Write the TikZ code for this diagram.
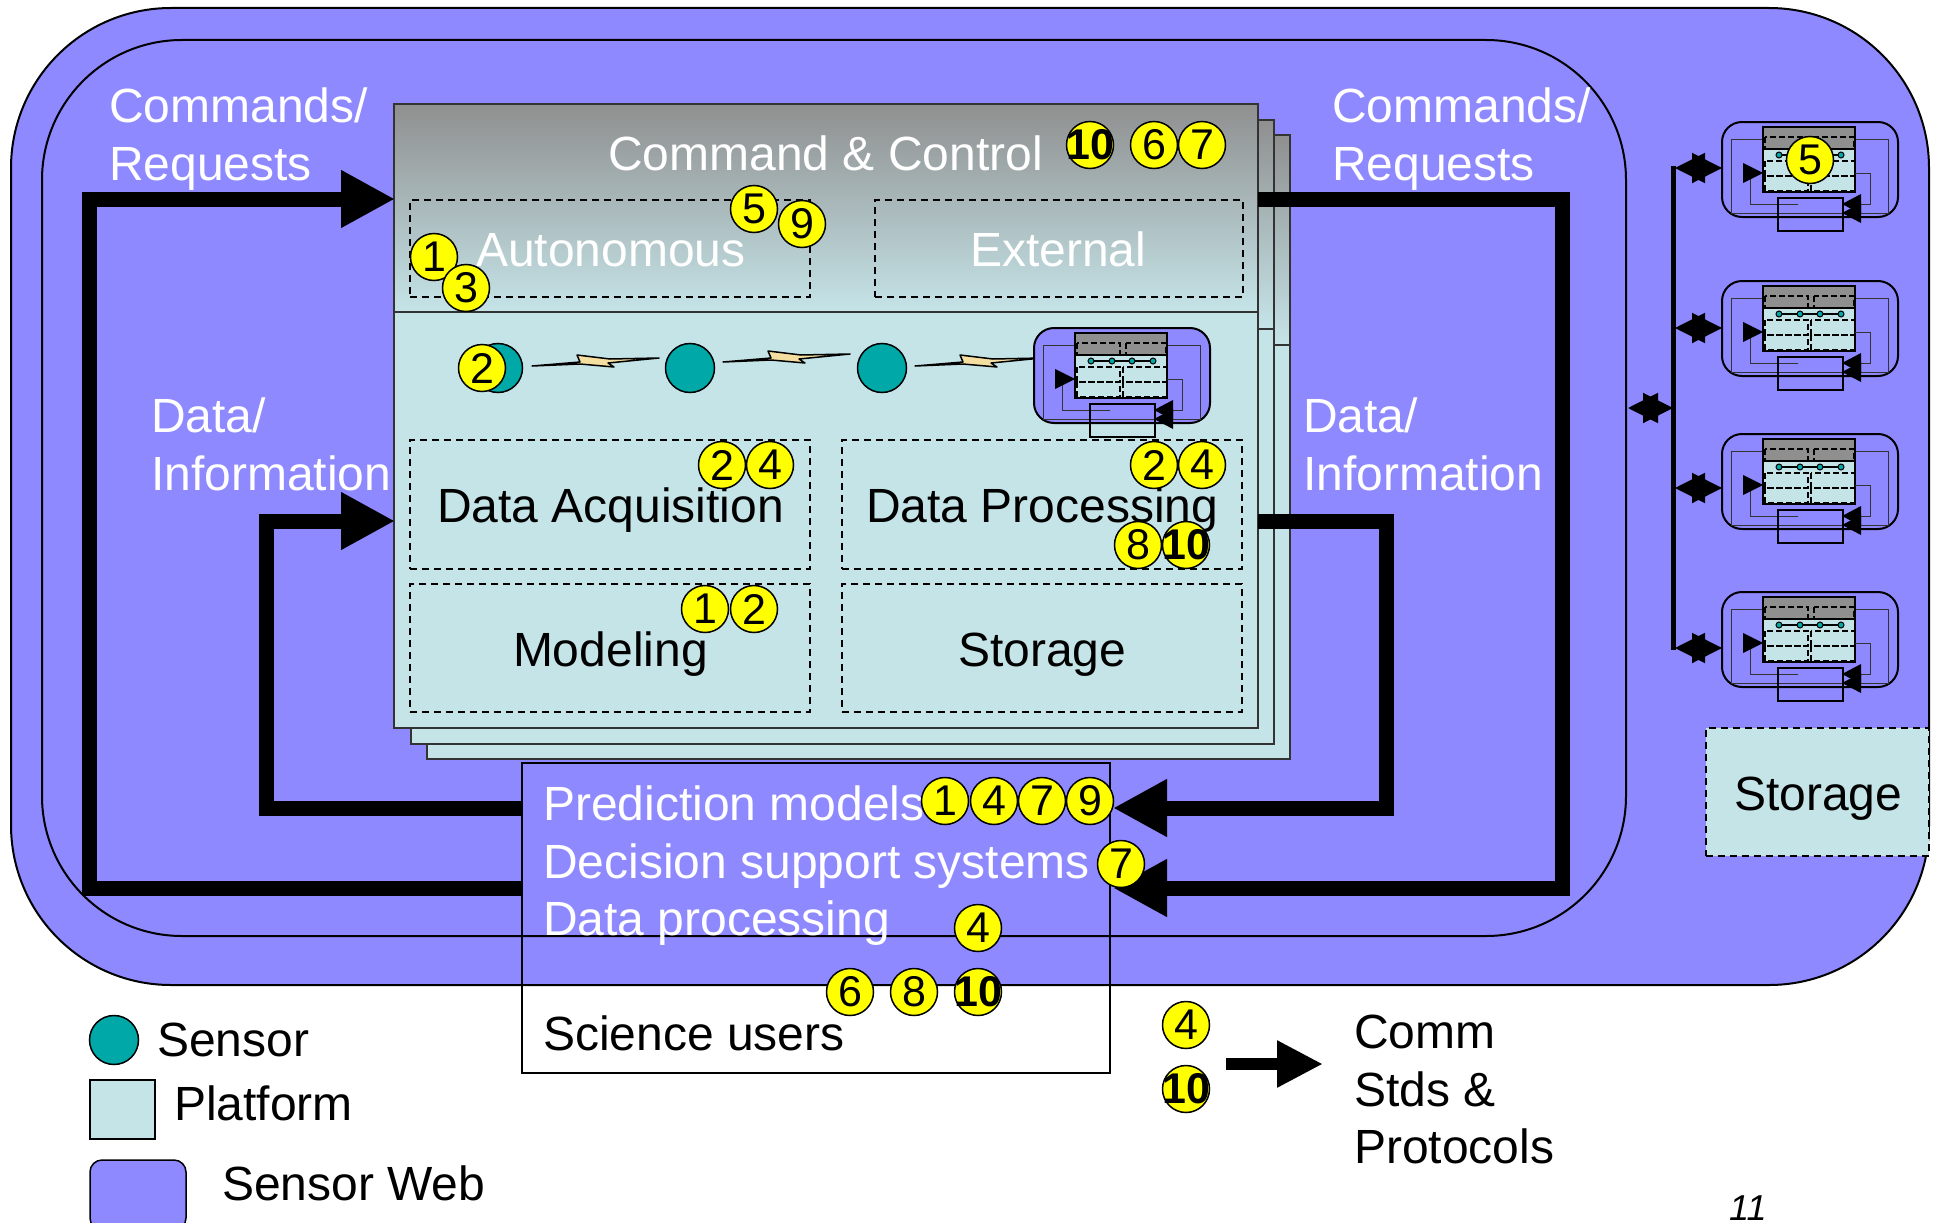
\documentclass[tikz,border=0pt]{standalone}
\usepackage{fontspec}
\setmainfont{Liberation Sans}
\usetikzlibrary{arrows.meta}

\definecolor{webpurple}{HTML}{8F89FF}
\definecolor{platblue}{HTML}{C5E4E8}
\definecolor{cmdgray}{HTML}{8F8F8F}
\definecolor{sensorteal}{HTML}{00A8A8}
\definecolor{boltcream}{HTML}{F5DFA0}
\definecolor{numyellow}{HTML}{FFFF00}

\tikzset{
  label48/.style={inner sep=0, outer sep=0, anchor=base west, font=\fontsize{48}{58}\selectfont},
  whitetxt/.style={label48, text=white},
  blacktxt/.style={label48, text=black},
  numbadge/.style={circle, draw=black, line width=1.5pt, fill=numyellow, minimum size=47pt, inner sep=0, font=\fontsize{43}{43}\selectfont},
  numbadgeb/.style={numbadge, inner sep=-7pt, font=\fontsize{43}{43}\selectfont\bfseries},
  sensor/.style={circle, draw=black, line width=1.5pt, fill=sensorteal, minimum size=49pt, inner sep=0},
  dashbox/.style={draw=black, line width=1.8pt, dash pattern=on 7pt off 5pt, inner sep=0, outer sep=0, anchor=north west},
  cardtop/.style={draw=black!80, line width=1.8pt, top color=cmdgray, middle color=platblue!72!cmdgray, bottom color=platblue, inner sep=0, outer sep=0, anchor=north west},
  cardlow/.style={draw=black!80, line width=1.8pt, fill=platblue, inner sep=0, outer sep=0, anchor=north west},
  bigflow/.style={line width=15pt, -{Triangle[length=54pt, width=54pt]}},
  busflow/.style={line width=2pt, {Triangle[length=30pt, width=30pt]}-{Triangle[length=30pt, width=30pt]}},
  boltmark/.pic={
    \draw[fill=boltcream, line width=1.5pt, line join=round] (0,0) -- (48,-4) -- (45,-11) -- (78,-7) -- (127,-8) -- (76,-3) -- (82,1) -- (48,-2) -- cycle;
  },
  minisys/.pic={
    \draw[fill=webpurple, line width=2pt, rounded corners=20pt] (0,0) rectangle (176,95);
    \draw[line width=1pt, black!80] (41,17) -- (9,17) -- (9,91) -- (166,91) -- (166,17) -- (133,17);
    \draw[line width=1pt, black!80] (76,82) -- (28,82) -- (28,52);
    \fill[platblue] (41,27) rectangle (133,70);
    \fill[cmdgray] (41,5) rectangle (133,27);
    \draw[line width=2pt] (41,5) rectangle (133,70) (41,27) -- (133,27);
    \draw[line width=2pt, dash pattern=on 6pt off 3pt] (43,15) rectangle (86,27) (92,15) rectangle (132,27);
    \draw[line width=2pt, dash pattern=on 6pt off 3pt] (43,39) rectangle (86,54) (43,54) rectangle (86,69) (89,39) rectangle (133,54) (89,54) rectangle (133,69);
    \draw[line width=1.5pt] (57,33) -- (78,33) -- (98,33) -- (119,33);
    \foreach \sx in {57,78,98,119} \draw[fill=sensorteal, line width=1pt] (\sx,33) circle (3pt);
    \draw[line width=1pt, black!80] (133,51) -- (148,51) -- (148,82) -- (130,82);
    \draw[line width=1.6pt] (56,76) rectangle (121,109);
    \fill (41,51) -- (21,41) -- (21,61) -- cycle;
    \fill (120,82) -- (139,72) -- (139,92) -- cycle;
    \fill (120,91) -- (139,81) -- (139,101) -- cycle;
  },
}

\begin{document}
\begin{tikzpicture}[x=1pt, y=-1pt]
  \useasboundingbox (0,0) rectangle (1939,1223);
  \clip (0,0) rectangle (1939,1223);

  % sensor web and inner web
  \draw[fill=webpurple, line width=2pt, rounded corners=160pt] (11,8) rectangle (1929,985);
  \draw[line width=2pt, rounded corners=140pt] (42,40) rectangle (1626,936);

  % stacked platforms, back to front
  \node[cardtop, minimum width=863pt, minimum height=210pt] (backTop) at (427,135) {};
  \node[cardlow, minimum width=863pt, minimum height=414pt] (backLow) at (427,345) {};
  \node[cardtop, minimum width=863pt, minimum height=209pt] (midTop) at (411,120) {};
  \node[cardlow, minimum width=863pt, minimum height=415pt] (midLow) at (411,329) {};
  \node[cardtop, minimum width=864pt, minimum height=208pt] (frontTop) at (394,104) {};
  \node[cardlow, minimum width=864pt, minimum height=416pt] (frontLow) at (394,312) {};

  \node[dashbox, minimum width=400pt, minimum height=97pt] (autoBox) at (410,200) {};
  \node[dashbox, minimum width=368pt, minimum height=97pt] (extBox) at (875,200) {};
  \node[dashbox, minimum width=400pt, minimum height=129pt] (acqBox) at (410,440) {};
  \node[dashbox, minimum width=400pt, minimum height=129pt] (procBox) at (842,440) {};
  \node[dashbox, minimum width=400pt, minimum height=128pt] (modelBox) at (410,584) {};
  \node[dashbox, minimum width=400pt, minimum height=128pt] (storeBox) at (842,584) {};

  % sensor chain
  \node[sensor] (sensorA) at (498,368) {};
  \node[sensor] (sensorB) at (690,368) {};
  \node[sensor] (sensorC) at (882,368) {};
  \pic at (532,366) {boltmark};
  \pic at (723,362) {boltmark};
  \pic at (915,366) {boltmark};
  \pic (iconMain) at (1034,328) {minisys};

  % main flows
  \coordinate (usrLow) at (522,888);
  \coordinate (usrHigh) at (522,808);
  \coordinate (cmdLeft) at (89,199);
  \coordinate (dataLeft) at (266,521);
  \coordinate (cmdIn) at (395,199);
  \coordinate (dataIn) at (395,521);
  \coordinate (cmdOut) at (1258,199);
  \coordinate (dataOut) at (1258,521);
  \coordinate (cmdRight) at (1562,888);
  \coordinate (dataRight) at (1386,808);
  \coordinate (usrLowR) at (1113,888);
  \coordinate (usrHighR) at (1113,808);
  \draw[bigflow] (usrLow) -| (cmdLeft) -- (cmdIn);
  \draw[bigflow] (usrHigh) -| (dataLeft) -- (dataIn);
  \draw[bigflow] (cmdOut) -| (cmdRight) -- (usrLowR);
  \draw[bigflow] (dataOut) -| (dataRight) -- (usrHighR);

  \node[draw=black, line width=1.8pt, inner sep=0, outer sep=0, anchor=north west, minimum width=588pt, minimum height=310pt] (users) at (522,763) {};

  % remote platforms on the bus
  \pic (iconA) at (1722,122) {minisys};
  \pic (iconB) at (1722,281) {minisys};
  \pic (iconC) at (1722,434) {minisys};
  \pic (iconD) at (1722,592) {minisys};
  \coordinate (busA) at (1675,168);
  \coordinate (busB) at (1675,328);
  \coordinate (busC) at (1675,488);
  \coordinate (busD) at (1675,648);
  \coordinate (tapA) at (1722,168);
  \coordinate (tapB) at (1722,328);
  \coordinate (tapC) at (1722,488);
  \coordinate (tapD) at (1722,648);
  \coordinate (busMid) at (1673,408);
  \coordinate (webTap) at (1628,408);
  \draw[line width=5pt] (1673,166) -- (1673,650);
  \draw[busflow] (busA) -- (tapA);
  \draw[busflow] (busB) -- (tapB);
  \draw[busflow] (busC) -- (tapC);
  \draw[busflow] (busD) -- (tapD);
  \draw[busflow] (webTap) -- (busMid);

  \node[draw=black, fill=platblue, line width=1.8pt, dash pattern=on 7pt off 5pt, inner sep=0, outer sep=0, anchor=north west, minimum width=223pt, minimum height=128pt] (archive) at (1706,728) {};

  % labels
  \node[whitetxt] (cmdA) at (109,122) {Commands/};
  \node[whitetxt] (reqA) at (109,180) {Requests};
  \node[whitetxt] (cmdB) at (1332,122) {Commands/};
  \node[whitetxt] (reqB) at (1332,180) {Requests};
  \node[whitetxt] (dataA) at (151,432) {Data/};
  \node[whitetxt] (infoA) at (151,490) {Information};
  \node[whitetxt] (dataB) at (1303,432) {Data/};
  \node[whitetxt] (infoB) at (1303,490) {Information};
  \node[whitetxt] (cmdCtl) at (608,170) {Command \& Control};
  \node[whitetxt] (autoTxt) at (476,266) {Autonomous};
  \node[whitetxt] (extTxt) at (970,266) {External};
  \node[blacktxt] (acqTxt) at (437,522) {Data Acquisition};
  \node[blacktxt] (procTxt) at (866,522) {Data Processing};
  \node[blacktxt] (modelTxt) at (513,666) {Modeling};
  \node[blacktxt] (storeTxt) at (958,666) {Storage};
  \node[blacktxt] (archiveTxt) at (1734,810) {Storage};
  \node[whitetxt] (predTxt) at (543,820) {Prediction models};
  \node[whitetxt] (dssTxt) at (543,878) {Decision support systems};
  \node[whitetxt] (dpTxt) at (543,935) {Data processing};
  \node[blacktxt] (sciTxt) at (543,1050) {Science users};

  % capability numbers
  \node[numbadgeb] (numA) at (1090,145) {10};
  \node[numbadge] (numB) at (1154,145) {6};
  \node[numbadge] (numC) at (1202,145) {7};
  \node[numbadge] (numD) at (754,209) {5};
  \node[numbadge] (numE) at (802,224) {9};
  \node[numbadge] (numF) at (434,257) {1};
  \node[numbadge] (numG) at (466,288) {3};
  \node[numbadge] (numH) at (482,368) {2};
  \node[numbadge] (numI) at (722,465) {2};
  \node[numbadge] (numJ) at (770,465) {4};
  \node[numbadge] (numK) at (1154,465) {2};
  \node[numbadge] (numL) at (1202,465) {4};
  \node[numbadge] (numM) at (1138,545) {8};
  \node[numbadgeb] (numN) at (1186,545) {10};
  \node[numbadge] (numO) at (705,609) {1};
  \node[numbadge] (numP) at (754,609) {2};
  \node[numbadge] (numQ) at (945,801) {1};
  \node[numbadge] (numR) at (994,801) {4};
  \node[numbadge] (numS) at (1042,801) {7};
  \node[numbadge] (numT) at (1090,801) {9};
  \node[numbadge] (numU) at (1121,864) {7};
  \node[numbadge] (numV) at (978,928) {4};
  \node[numbadge] (numW) at (850,992) {6};
  \node[numbadge] (numX) at (914,992) {8};
  \node[numbadgeb] (numY) at (978,992) {10};
  \node[numbadge] (numZ) at (1810,160) {5};

  % legend
  \node[sensor] (legSensor) at (114,1040) {};
  \node[blacktxt] (legSensorTxt) at (157,1056) {Sensor};
  \node[draw=black, fill=platblue, line width=1.5pt, inner sep=0, outer sep=0, anchor=north west, minimum width=65pt, minimum height=59pt] (legPlat) at (90,1080) {};
  \node[blacktxt] (legPlatTxt) at (174,1120) {Platform};
  \node[draw=black, fill=webpurple, line width=1.5pt, rounded corners=12pt, inner sep=0, outer sep=0, anchor=north west, minimum width=96pt, minimum height=70pt] (legWeb) at (90,1160) {};
  \node[blacktxt] (legWebTxt) at (222,1200) {Sensor Web};

  \node[numbadge] (stdA) at (1186,1025) {4};
  \node[numbadgeb] (stdB) at (1186,1089) {10};
  \coordinate (stdTail) at (1226,1064);
  \coordinate (stdHead) at (1323,1064);
  \draw[line width=12pt, -{Triangle[length=46pt, width=44pt]}] (stdTail) -- (stdHead);
  \node[blacktxt] (commTxt) at (1354,1048) {Comm};
  \node[blacktxt] (stdsTxt) at (1354,1106) {Stds \&};
  \node[blacktxt] (protoTxt) at (1354,1163) {Protocols};
  \node[inner sep=0, anchor=base west, font=\fontsize{36}{36}\selectfont\itshape] (pageNo) at (1729,1220) {11};
\end{tikzpicture}
\end{document}
